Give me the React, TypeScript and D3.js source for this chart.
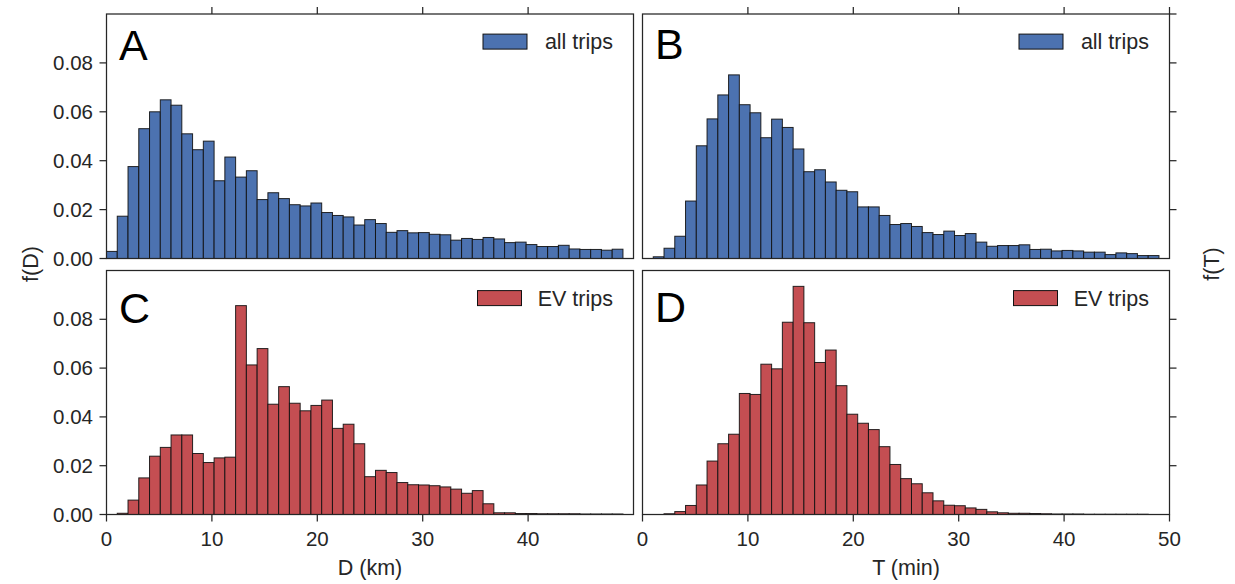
import React from 'react';
import * as d3 from 'd3';

// ---- data (histogram densities, 48 bins over [0, 49]) ----
const binMax = 49;
const binCount = 48;

const distAll = [
  0.0029, 0.0173, 0.0376, 0.0531, 0.0600, 0.0649, 0.0627, 0.0510, 0.0445, 0.0480,
  0.0318, 0.0415, 0.0333, 0.0359, 0.0241, 0.0269, 0.0245, 0.0220, 0.0215, 0.0227,
  0.0188, 0.0176, 0.0170, 0.0137, 0.0159, 0.0143, 0.0107, 0.0114, 0.0105, 0.0106,
  0.0099, 0.0097, 0.0075, 0.0082, 0.0078, 0.0086, 0.0080, 0.0065, 0.0067, 0.0057,
  0.0049, 0.0049, 0.0054, 0.0039, 0.0037, 0.0037, 0.0034, 0.0038,
];

const timeAll = [
  0, 0.0007, 0.0042, 0.0091, 0.0235, 0.0461, 0.0571, 0.0669, 0.0751, 0.0629,
  0.0596, 0.0494, 0.0570, 0.0536, 0.0448, 0.0355, 0.0363, 0.0313, 0.0279, 0.0273,
  0.0211, 0.0211, 0.0176, 0.0139, 0.0143, 0.0131, 0.0106, 0.0098, 0.0112, 0.0094,
  0.0102, 0.0067, 0.0050, 0.0053, 0.0053, 0.0056, 0.0037, 0.0038, 0.0031, 0.0033,
  0.0031, 0.0026, 0.0026, 0.0016, 0.0023, 0.0020, 0.0012, 0.0012,
];

const distEV = [
  0, 0.0005, 0.0059, 0.0150, 0.0239, 0.0275, 0.0326, 0.0326, 0.0250, 0.0213,
  0.0232, 0.0235, 0.0856, 0.0613, 0.0680, 0.0452, 0.0524, 0.0456, 0.0425, 0.0447,
  0.0469, 0.0353, 0.0370, 0.0290, 0.0155, 0.0181, 0.0172, 0.0131, 0.0122, 0.0121,
  0.0118, 0.0113, 0.0104, 0.0087, 0.0098, 0.0044, 0.0007, 0.0007, 0.0004, 0.0004,
  0.0003, 0.0003, 0.0003, 0.0003, 0.0002, 0.0002, 0.0002, 0.0002,
];

const timeEV = [
  0, 0, 0.0003, 0.0012, 0.0037, 0.0121, 0.0219, 0.0290, 0.0329, 0.0496,
  0.0492, 0.0616, 0.0597, 0.0788, 0.0935, 0.0786, 0.0623, 0.0674, 0.0528, 0.0411,
  0.0374, 0.0348, 0.0278, 0.0205, 0.0147, 0.0126, 0.0089, 0.0056, 0.0038, 0.0036,
  0.0027, 0.0021, 0.0011, 0.0007, 0.0005, 0.0005, 0.0004, 0.0003, 0.0002, 0.0002,
  0.0002, 0.0001, 0.0001, 0.0001, 0.0001, 0.0001, 0.0001, 0,
];

const xTicksD = [0, 10, 20, 30, 40];
const xTicksT = [0, 10, 20, 30, 40, 50];
const yTicks = [0, 0.02, 0.04, 0.06, 0.08];
const yTickLabels = ['0.00', '0.02', '0.04', '0.06', '0.08'];
const legendAll = 'all trips';
const legendEV = 'EV trips';

// ---- style ----
const BLUE = '#4C72B0';
const RED = '#C44E52';
const INK = '#262626';
const FONT = '"Liberation Sans", Arial, Helvetica, sans-serif';
const TICK = 7;
const TICK_FS = 20.5;
const LABEL_FS = 21.5;

type PanelProps = {
  values: number[];
  color: string;
  x0: number; x1: number; y0: number; y1: number;
  letter: string; letterDy: number;
  legend: string; legendPatchOffset: number;
  leftTicks?: boolean; rightTicks?: number[];
  topTicks?: number[]; bottomTicks?: number[];
};

function Panel(p: PanelProps) {
  const x = d3.scaleLinear().domain([0, 50]).range([p.x0, p.x1]);
  const y = d3.scaleLinear().domain([0, 0.1]).range([p.y1, p.y0]);
  const bw = binMax / binCount;
  const legendCy = p.y0 + 27.6;
  return (
    <g>
      {p.values.map((v, i) => (
        <rect key={i}
          x={x(i * bw)} y={y(v)}
          width={x((i + 1) * bw) - x(i * bw)} height={y(0) - y(v)}
          fill={p.color} stroke="#111" strokeOpacity={0.9} strokeWidth={1} />
      ))}
      <rect x={p.x0} y={p.y0} width={p.x1 - p.x0} height={p.y1 - p.y0}
        fill="none" stroke={INK} strokeWidth={1.25} />
      {p.leftTicks && yTicks.map((t, i) => (
        <g key={'l' + i}>
          <line x1={p.x0 - TICK} x2={p.x0} y1={y(t)} y2={y(t)} stroke={INK} strokeWidth={1.25} />
          <text x={p.x0 - TICK - 6.5} y={y(t)} dy="0.35em" textAnchor="end"
            fontFamily={FONT} fontSize={TICK_FS} fill={INK}>{yTickLabels[i]}</text>
        </g>
      ))}
      {p.rightTicks && p.rightTicks.map((t, i) => (
        <line key={'r' + i} x1={p.x1} x2={p.x1 + TICK} y1={y(t)} y2={y(t)} stroke={INK} strokeWidth={1.25} />
      ))}
      {p.topTicks && p.topTicks.map((t, i) => (
        <line key={'t' + i} x1={x(t)} x2={x(t)} y1={p.y0 - TICK} y2={p.y0} stroke={INK} strokeWidth={1.25} />
      ))}
      {p.bottomTicks && p.bottomTicks.map((t, i) => (
        <g key={'b' + i}>
          <line x1={x(t)} x2={x(t)} y1={p.y1} y2={p.y1 + TICK} stroke={INK} strokeWidth={1.25} />
          <text x={x(t)} y={p.y1 + 24} dy="0.35em" textAnchor="middle"
            fontFamily={FONT} fontSize={TICK_FS} fill={INK}>{t}</text>
        </g>
      ))}
      <text x={p.x0 + 12.5} y={p.y0 + p.letterDy} fontFamily={FONT} fontSize={43} fill="#000">{p.letter}</text>
      <rect x={p.x1 - p.legendPatchOffset} y={legendCy - 7.5} width={44} height={15}
        fill={p.color} stroke="#111" strokeWidth={1} />
      <text x={p.x1 - 20.5} y={legendCy} dy="0.35em" textAnchor="end"
        fontFamily={FONT} fontSize={LABEL_FS} fill={INK}>{p.legend}</text>
    </g>
  );
}

export default function App() {
  const L = { x0: 106.5, x1: 633.5 };
  const R = { x0: 642.5, x1: 1169.5 };
  const T = { y0: 14, y1: 258.5 };
  const B = { y0: 270.5, y1: 514.5 };
  return (
    <svg width={1235} height={584} style={{ position: 'absolute', left: 0, top: 0, background: '#fff' }}>
      <rect x={0} y={0} width={1235} height={584} fill="#fff" />
      <Panel values={distAll} color={BLUE} {...L} {...T} letter="A" letterDy={45.5}
        legend={legendAll} legendPatchOffset={150.5} leftTicks topTicks={[10, 20, 30, 40]} />
      <Panel values={timeAll} color={BLUE} {...R} {...T} letter="B" letterDy={45}
        legend={legendAll} legendPatchOffset={150.5} rightTicks={[0.02, 0.04, 0.06, 0.08, 0.1]} topTicks={[10, 20, 30, 40, 50]} />
      <Panel values={distEV} color={RED} {...L} {...B} letter="C" letterDy={52}
        legend={legendEV} legendPatchOffset={156} leftTicks bottomTicks={xTicksD} />
      <Panel values={timeEV} color={RED} {...R} {...B} letter="D" letterDy={51.5}
        legend={legendEV} legendPatchOffset={156} rightTicks={[0.02, 0.04, 0.06, 0.08]} bottomTicks={xTicksT} />
      <text x={370} y={567} dy="0.35em" textAnchor="middle" fontFamily={FONT} fontSize={LABEL_FS} fill={INK}>D (km)</text>
      <text x={906} y={567} dy="0.35em" textAnchor="middle" fontFamily={FONT} fontSize={LABEL_FS} fill={INK}>T (min)</text>
      <text transform="translate(30,264) rotate(-90)" dy="0.35em" textAnchor="middle" fontFamily={FONT} fontSize={LABEL_FS} fill={INK}>f(D)</text>
      <text transform="translate(1211,264) rotate(-90)" dy="0.35em" textAnchor="middle" fontFamily={FONT} fontSize={LABEL_FS} fill={INK}>f(T)</text>
    </svg>
  );
}
